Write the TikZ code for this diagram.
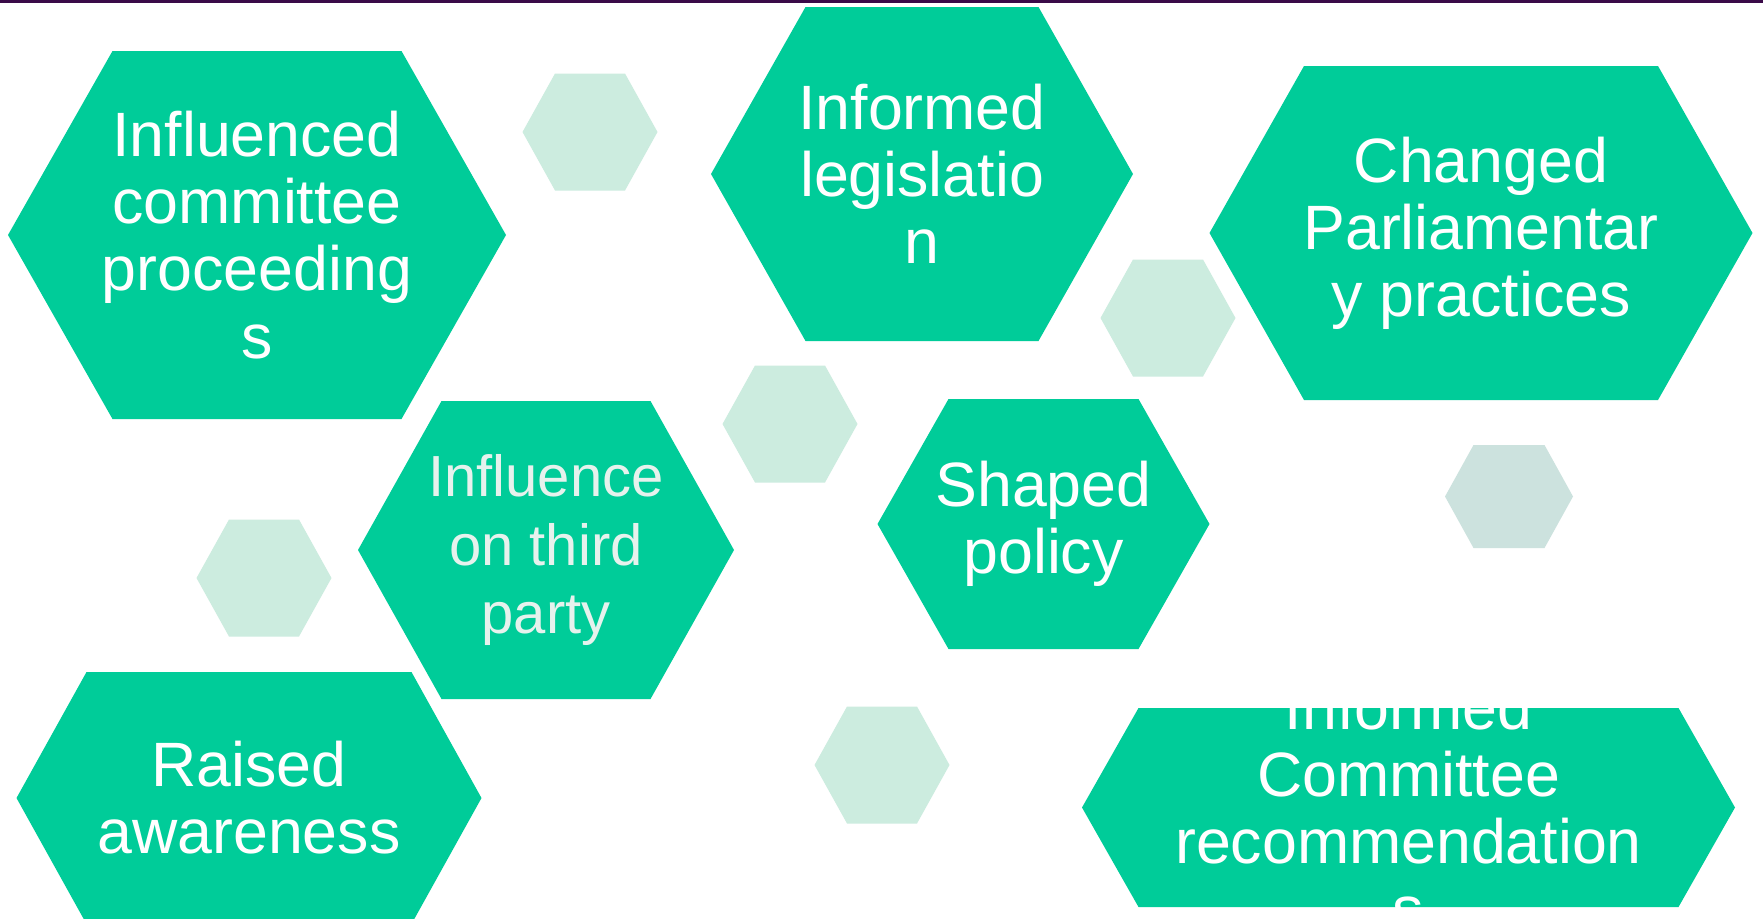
\documentclass[tikz,border=0pt]{standalone}
\usepackage{fontspec}
\setmainfont{Liberation Sans}
\usepackage{tikz}

\definecolor{hexgreen}{RGB}{0,204,153}
\definecolor{hexpale}{RGB}{204,236,223}
\definecolor{hexgrey}{RGB}{204,226,222}
\definecolor{barpurple}{RGB}{58,10,72}
\definecolor{textgrey}{RGB}{230,242,237}

% hexagon: centre x, centre y, half top edge, half width, half height
\newcommand{\hexshape}[5]{(#1-#4,#2) -- (#1-#3,#2-#5) -- (#1+#3,#2-#5) -- (#1+#4,#2) -- (#1+#3,#2+#5) -- (#1-#3,#2+#5) -- cycle}

\tikzset{
  hextext/.style={text=white, align=center, inner sep=0pt, font=\fontsize{47}{50.3}\selectfont},
  thirdtext/.style={text=textgrey, align=center, inner sep=0pt, font=\fontsize{43.5}{51.5}\selectfont}
}

\begin{document}
\begin{tikzpicture}[x=0.75pt, y=-0.75pt]
  \clip (0,0) rectangle (1763,918);
  \fill[white] (0,0) rectangle (1763,918);
  \fill[barpurple] (0,0) rectangle (1763,3);

  % Small hexagons
  \foreach \cx/\cy in {590/132, 1168/318, 790/424, 264/578, 882/765}
  \fill[hexpale] \hexshape{\cx}{\cy}{35}{67.5}{58.5};
  \fill[hexgrey] \hexshape{1509}{496.5}{35.5}{64}{51.5};

  % Large hexagons
  \fill[hexgreen] \hexshape{257}{235}{144.5}{249}{184};
  \fill[hexgreen] \hexshape{922}{174}{116.5}{211}{167};
  \fill[hexgreen] \hexshape{1481}{233}{177}{271.5}{167};
  \fill[hexgreen] \hexshape{546}{550}{104.5}{188}{149};
  \fill[hexgreen] \hexshape{1043.5}{524}{95}{166}{125};
  \fill[hexgreen] \hexshape{249}{798}{162.5}{232.5}{126};
  \fill[hexgreen] \hexshape{1408.5}{807.5}{270}{326.5}{99.5};

  % Nodes
  \node[hextext] (proceedings) at (257,235) {Influenced\\committee\\proceeding\\s};
  \node[hextext] (legislation) at (922,174) {Informed\\legislatio\\n};
  \node[hextext] (practices) at (1481,233) {Changed\\Parliamentar\\y practices};
  \node[thirdtext] (thirdparty) at (546,550) {Influence\\on third\\party};
  \node[hextext] (policy) at (1043.5,524) {Shaped\\policy};
  \node[hextext] (awareness) at (249,798) {Raised\\awareness};
  \begin{scope}
    \clip \hexshape{1408.5}{807.5}{270}{326.5}{99.5};
    \node[hextext] (recommendations) at (1408.5,807.5) {Informed\\Committee\\recommendation\\s};
  \end{scope}
\end{tikzpicture}
\end{document}
